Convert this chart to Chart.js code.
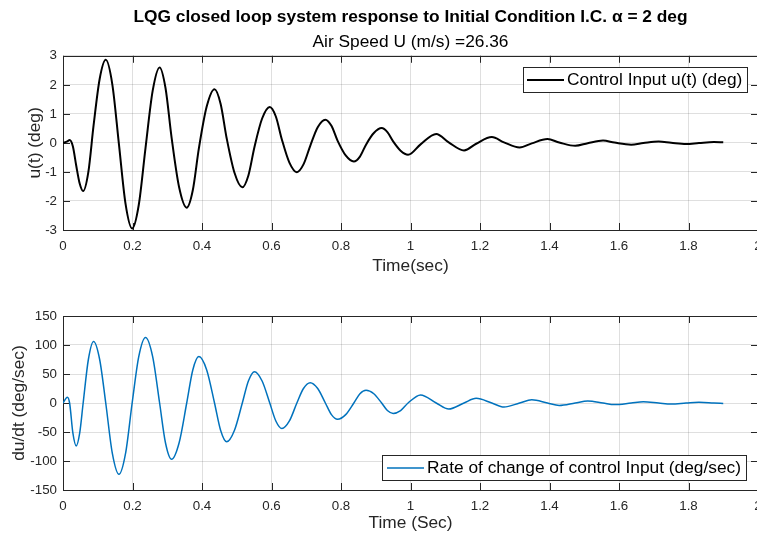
<!DOCTYPE html>
<html>
<head>
<meta charset="utf-8">
<title>LQG closed loop system response</title>
<script src="https://cdn.jsdelivr.net/npm/chart.js@4.4.1/dist/chart.umd.min.js"></script>
<style>
  html, body { margin: 0; padding: 0; background: #fff; overflow: hidden; width: 757px; height: 536px; }
  canvas { position: absolute; left: 0; }
  #top-plot { top: 0; }
  #bottom-plot { top: 290px; }
</style>
</head>
<body>
<canvas id="top-plot" width="820" height="290"></canvas>
<canvas id="bottom-plot" width="820" height="246"></canvas>
<script>
// control input u(t) (peaks, troughs, inflections and the flanks between)
var uTime = [0, 0.0125, 0.019, 0.0285, 0.038, 0.048, 0.058, 0.073, 0.088, 0.1055,
    0.123, 0.142, 0.161, 0.180, 0.199, 0.218, 0.2375, 0.258, 0.278, 0.295,
    0.3125, 0.334, 0.356, 0.3735, 0.391, 0.4135, 0.436, 0.4535, 0.471, 0.4935,
    0.516, 0.5335, 0.551, 0.573, 0.595, 0.6125, 0.630, 0.6515, 0.673, 0.692,
    0.7115, 0.733, 0.755, 0.7725, 0.790, 0.8135, 0.837, 0.8545, 0.872, 0.8945,
    0.917, 0.9335, 0.950, 0.9715, 0.993, 1.029, 1.074, 1.110, 1.154, 1.189,
    1.234, 1.269, 1.314, 1.349, 1.394, 1.428, 1.474, 1.510, 1.554, 1.587,
    1.635, 1.670, 1.714, 1.750, 1.793, 1.830, 1.873, 1.900];
var uValue = [0, 0.05, 0.10, -0.12, -0.78, -1.40, -1.66, -1.00, 0.60, 2.20,
    2.86, 2.01, -0.05, -2.10, -2.95, -2.14, -0.17, 1.79, 2.60, 1.89,
    0.18, -1.52, -2.23, -1.63, -0.19, 1.25, 1.85, 1.35, 0.16, -1.03,
    -1.53, -1.12, -0.14, 0.84, 1.24, 0.91, 0.11, -0.68, -1.01, -0.74,
    -0.10, 0.54, 0.80, 0.59, 0.08, -0.43, -0.64, -0.47, -0.06, 0.34,
    0.51, 0.37, 0.05, -0.27, -0.41, -0.05, 0.31, 0.02, -0.26, -0.03,
    0.20, 0.02, -0.16, -0.015, 0.13, 0.015, -0.10, -0.01, 0.08, 0.01,
    -0.06, -0.005, 0.05, 0.005, -0.04, -0.005, 0.03, 0.02];

// rate of change du/dt
var rateTime = [0, 0.0125, 0.019, 0.0285, 0.038, 0.048, 0.058, 0.073, 0.088, 0.1055,
    0.123, 0.142, 0.161, 0.180, 0.199, 0.218, 0.2375, 0.258, 0.278, 0.295,
    0.3125, 0.334, 0.356, 0.3735, 0.391, 0.4135, 0.436, 0.4535, 0.471, 0.4935,
    0.516, 0.5335, 0.551, 0.573, 0.595, 0.6125, 0.630, 0.6515, 0.673, 0.692,
    0.7115, 0.733, 0.755, 0.7725, 0.790, 0.8135, 0.837, 0.8545, 0.872, 0.8945,
    0.917, 0.9335, 0.950, 0.9715, 0.993, 1.029, 1.074, 1.110, 1.154, 1.189,
    1.234, 1.269, 1.314, 1.349, 1.394, 1.428, 1.474, 1.510, 1.554, 1.587,
    1.635, 1.670, 1.714, 1.750, 1.793, 1.830, 1.873, 1.900];
var rateValue = [0, 10, 0, -52, -74, -52, 0, 75, 106, 75,
    0, -87, -123, -87, 0, 80, 113, 80, 0, -69,
    -97, -69, 0, 57, 80, 57, 0, -47, -67, -47,
    0, 38, 54, 38, 0, -31, -44, -31, 0, 25,
    35, 25, 0, -20, -28, -20, 0, 16, 22, 16,
    0, -13, -18, -13, 0, 14, 0, -10.5, 0, 8,
    0, -7, 0, 5.5, 0, -4.3, 0, 3.4, 0, -2.8,
    0, 2.2, 0, -1.8, 0, 1.4, 0, -0.8];

var timeLimits = [0, 2];
var uLimits = [-3, 3];
var rateLimits = [-150, 150];

Chart.defaults.font.family = '"Liberation Sans", Arial, Helvetica, sans-serif';

var axisColor = '#262626';
var gridColor = 'rgba(38, 38, 38, 0.15)';
var labelSize = 17.33;
var tickSize = 13.33;

function toPoints(xs, ys) {
    return xs.map(function(x, i) { return { x: x, y: ys[i] }; });
}

function tickText(v) {
    return String(Number(v.toFixed(2)));
}

// matlab-like box with ticks pointing inward on all four sides
var axesBox = {
    id: 'axesBox',
    beforeDatasetsDraw: function(chart) {
        var ctx = chart.ctx;
        var a = chart.chartArea;
        var xs = chart.scales.x, ys = chart.scales.y;
        var len = 7;
        ctx.save();
        ctx.strokeStyle = axisColor;
        ctx.lineWidth = 1;
        ctx.beginPath();
        xs.ticks.forEach(function(t) {
            var px = Math.round(xs.getPixelForValue(t.value)) + 0.5;
            ctx.moveTo(px, a.bottom); ctx.lineTo(px, a.bottom - len);
            ctx.moveTo(px, a.top); ctx.lineTo(px, a.top + len);
        });
        ys.ticks.forEach(function(t) {
            var py = Math.round(ys.getPixelForValue(t.value)) + 0.5;
            ctx.moveTo(a.left, py); ctx.lineTo(a.left + len, py);
            ctx.moveTo(a.right, py); ctx.lineTo(a.right - len, py);
        });
        ctx.stroke();
        ctx.strokeRect(Math.round(a.left) + 0.5, Math.round(a.top) + 0.5,
            Math.round(a.right - a.left), Math.round(a.bottom - a.top));
        ctx.restore();
    }
};

// legend box drawn inside the axes
var boxLegend = {
    id: 'boxLegend',
    afterDraw: function(chart, args, opts) {
        var ds = chart.data.datasets[0];
        var ctx = chart.ctx;
        var a = chart.chartArea;
        ctx.save();
        ctx.font = labelSize + 'px ' + Chart.defaults.font.family;
        var tw = ctx.measureText(ds.label).width;
        var w = Math.round(opts.pad + opts.sample + 3 + tw + 5);
        var h = 25;
        var left = Math.round(a.right - opts.right - w);
        var top = opts.top != null ? Math.round(a.top + opts.top) : Math.round(a.bottom - opts.bottom - h);
        ctx.fillStyle = '#fff';
        ctx.fillRect(left, top, w, h);
        ctx.strokeStyle = axisColor;
        ctx.lineWidth = 1;
        ctx.strokeRect(left + 0.5, top + 0.5, w, h);
        ctx.strokeStyle = ds.borderColor;
        ctx.lineWidth = ds.borderWidth;
        ctx.beginPath();
        ctx.moveTo(left + opts.pad, top + h / 2 + 0.5);
        ctx.lineTo(left + opts.pad + opts.sample, top + h / 2 + 0.5);
        ctx.stroke();
        ctx.fillStyle = '#000';
        ctx.textBaseline = 'middle';
        ctx.fillText(ds.label, left + opts.pad + opts.sample + 3, top + h / 2 + 1);
        ctx.restore();
    }
};

function makePlot(canvasId, o) {
    return new Chart(document.getElementById(canvasId), {
        type: 'line',
        data: {
            datasets: [{
                label: o.label,
                data: o.points,
                borderColor: o.color,
                borderWidth: o.width,
                pointRadius: 0,
                cubicInterpolationMode: 'monotone',
                fill: false
            }]
        },
        options: {
            responsive: false,
            animation: false,
            events: [],
            layout: { padding: { top: o.padTop, right: 62, left: 0, bottom: 0 } },
            plugins: {
                legend: { display: false },
                tooltip: { enabled: false },
                title: o.title,
                subtitle: o.subtitle,
                boxLegend: o.legend
            },
            scales: {
                x: {
                    type: 'linear',
                    min: timeLimits[0],
                    max: timeLimits[1],
                    ticks: { stepSize: 0.2, padding: 8.5, color: axisColor, font: { size: tickSize }, callback: tickText },
                    grid: { color: gridColor, drawTicks: false },
                    border: { display: false },
                    title: { display: true, text: o.xTitle, color: axisColor, font: { size: labelSize },
                        padding: { top: 0, bottom: o.xTitlePad } },
                    afterFit: function(s) { s.height = o.xHeight; }
                },
                y: {
                    min: o.yLimits[0],
                    max: o.yLimits[1],
                    ticks: { stepSize: o.yStep, padding: 6, color: axisColor, font: { size: tickSize }, callback: tickText },
                    grid: { color: gridColor, drawTicks: false },
                    border: { display: false },
                    title: { display: true, text: o.yTitle, color: axisColor, font: { size: labelSize },
                        padding: { top: o.yTitlePad, bottom: 0 } },
                    afterFit: function(s) { s.width = 63; }
                }
            }
        },
        plugins: [axesBox, boxLegend]
    });
}

makePlot('top-plot', {
    label: 'Control Input u(t) (deg)',
    points: toPoints(uTime, uValue),
    color: '#000000',
    width: 2,
    padTop: 0,
    title: {
        display: true,
        fullSize: false,
        text: 'LQG closed loop system response to Initial Condition I.C. \u03b1 = 2 deg',
        color: '#000',
        font: { size: 17.33, weight: 'bold' },
        padding: { top: 6.6, bottom: 2.6 }
    },
    subtitle: {
        display: true,
        fullSize: false,
        text: 'Air Speed U (m/s) =26.36',
        color: '#000',
        font: { size: labelSize, weight: 'normal' },
        padding: { top: 2, bottom: 3 }
    },
    legend: { right: 11, top: 11, pad: 4, sample: 37 },
    xTitle: 'Time(sec)',
    xTitlePad: 13.6,
    xHeight: 60,
    yTitle: 'u(t) (deg)',
    yTitlePad: 24.6,
    yLimits: uLimits,
    yStep: 1
});

makePlot('bottom-plot', {
    label: 'Rate of change of control Input (deg/sec)',
    points: toPoints(rateTime, rateValue),
    color: '#0072BD',
    width: 1.5,
    padTop: 26,
    title: { display: false },
    subtitle: { display: false },
    legend: { right: 12, bottom: 10, pad: 5, sample: 37 },
    xTitle: 'Time (Sec)',
    xTitlePad: 2.6,
    xHeight: 46,
    yTitle: 'du/dt (deg/sec)',
    yTitlePad: 8.6,
    yLimits: rateLimits,
    yStep: 50
});
</script>
</body>
</html>
